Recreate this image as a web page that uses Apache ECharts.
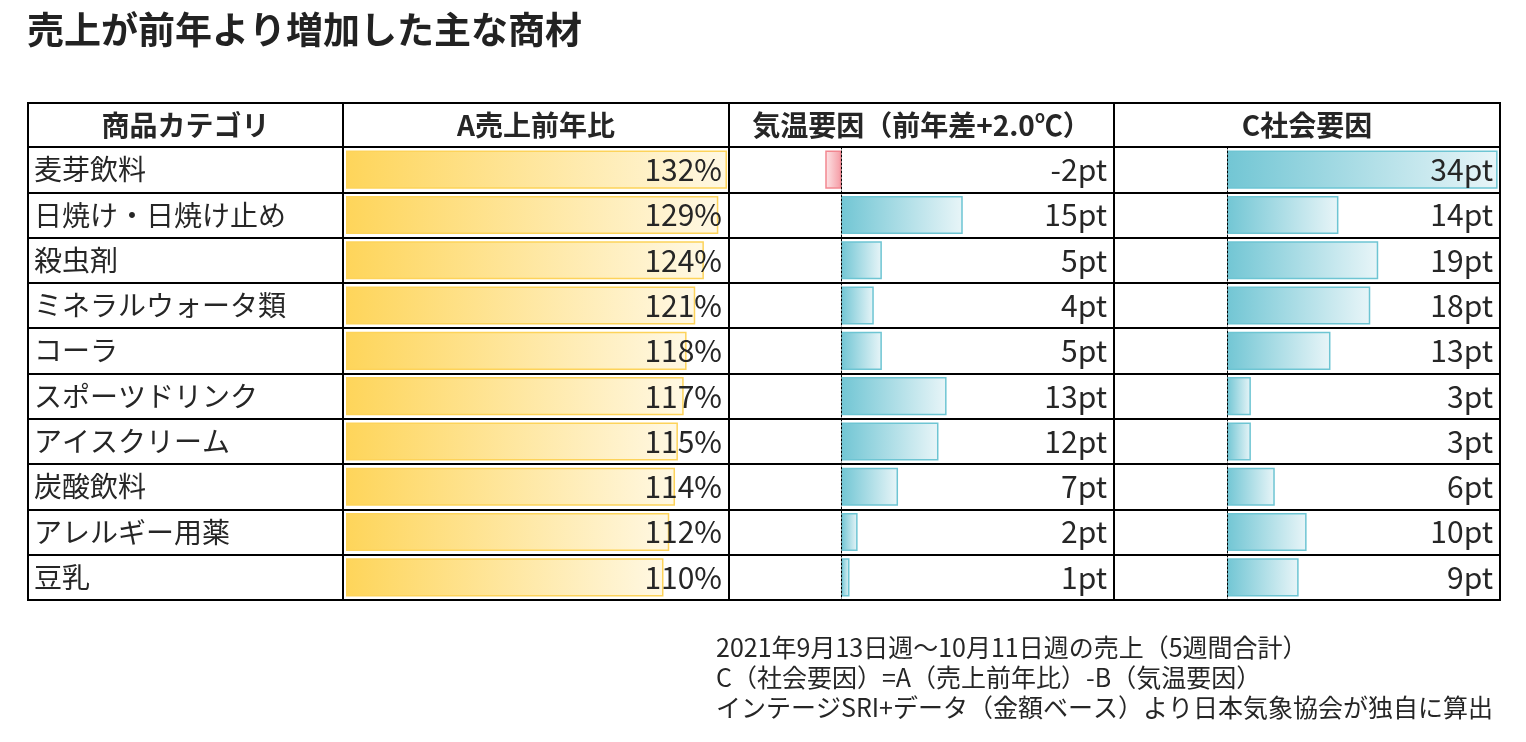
<!DOCTYPE html>
<html><head><meta charset="utf-8">
<script src="https://cdn.jsdelivr.net/npm/echarts@6/dist/echarts.min.js"></script>
<style>html,body{margin:0;padding:0;background:#fff}#c{width:1526px;height:742px}</style>
</head><body><div id="c"></div>
<script>
const titleText = '売上が前年より増加した主な商材';
const headers = ['商品カテゴリ', 'A売上前年比', '気温要因（前年差+2.0℃）', 'C社会要因'];
const categories = ['麦芽飲料', '日焼け・日焼け止め', '殺虫剤', 'ミネラルウォータ類', 'コーラ', 'スポーツドリンク', 'アイスクリーム', '炭酸飲料', 'アレルギー用薬', '豆乳'];
const salesYoY = [132, 129, 124, 121, 118, 117, 115, 114, 112, 110];
const weatherFactor = [-2, 15, 5, 4, 5, 13, 12, 7, 2, 1];
const socialFactor = [34, 14, 19, 18, 13, 3, 3, 6, 10, 9];
const notes = [
  '2021年9月13日週～10月11日週の売上（5週間合計）',
  'C（社会要因）=A（売上前年比）-B（気温要因）',
  'インテージSRI+データ（金額ベース）より日本気象協会が独自に算出'
];

const FONT = '"Noto Sans CJK JP", "Noto Sans", sans-serif';
const TXT = '#262626';
const cols = [28, 343, 729, 1114, 1500];
const headTop = 103, bodyTop = 147, bodyBottom = 600;
const LW = 2;

const chart = echarts.init(document.getElementById('c'));
const G = echarts.graphic;
const yellow = new G.LinearGradient(0, 0, 1, 0, [{offset: 0, color: '#FED55A'}, {offset: 1, color: '#FFF8E3'}]);
const teal = new G.LinearGradient(0, 0, 1, 0, [{offset: 0, color: '#72C6D4'}, {offset: 1, color: '#E8F5F8'}]);
const red = new G.LinearGradient(0, 0, 1, 0, [{offset: 0, color: '#FDE6E8'}, {offset: 1, color: '#F59AA3'}]);

const grids = [], xAxes = [], yAxes = [], series = [];
for (let i = 0; i < 4; i++) {
  grids.push({left: cols[i], top: bodyTop, width: cols[i + 1] - cols[i], height: bodyBottom - bodyTop,
    show: true, borderColor: '#000', borderWidth: LW, backgroundColor: 'transparent'});
}
const xRanges = [[0, 1], [-1.04, 132.7], [-13.9, 33.7], [-14.2, 34.3]];
xRanges.forEach((r, i) => {
  xAxes.push({type: 'value', gridIndex: i, min: r[0], max: r[1], show: false});
});
// left category axes (row lines, zero line, first column labels)
for (let i = 0; i < 4; i++) {
  yAxes.push({
    type: 'category', gridIndex: i, data: categories, inverse: true, position: 'left', z: 10,
    axisLine: {show: i >= 2, onZero: true, lineStyle: {color: '#000', width: 1, type: [2, 2]}},
    axisTick: {show: false},
    axisLabel: {show: i === 0, inside: true, margin: 6, interval: 0, fontFamily: FONT, fontSize: 28, color: TXT},
    splitLine: {show: true, interval: 0, lineStyle: {color: '#000', width: LW}}
  });
}
const fmt = [v => v + '%', v => v + 'pt', v => v + 'pt'];
const vals = [salesYoY, weatherFactor, socialFactor];
// right value-label axes
for (let i = 1; i < 4; i++) {
  yAxes.push({
    type: 'category', gridIndex: i, data: vals[i - 1].map(fmt[i - 1]), inverse: true, position: 'right', z: 10,
    axisLine: {show: false}, axisTick: {show: false}, splitLine: {show: false},
    axisLabel: {inside: true, margin: 7, interval: 0, fontFamily: FONT, fontSize: 30, color: TXT}
  });
}
const styles = [
  {color: yellow, borderColor: '#FDD35A'},
  {color: teal, borderColor: '#6EC5D3'},
  {color: teal, borderColor: '#6EC5D3'}
];
for (let i = 0; i < 3; i++) {
  series.push({
    type: 'bar', xAxisIndex: i + 1, yAxisIndex: i + 1, barWidth: '84%', z: 2,
    itemStyle: Object.assign({borderWidth: 1.5}, styles[i]),
    data: vals[i].map(v => v < 0 ? {value: v, itemStyle: {color: red, borderColor: '#F28690'}} : v)
  });
}

const graphics = [];
headers.forEach((h, i) => {
  graphics.push({type: 'rect', shape: {x: cols[i], y: headTop, width: cols[i + 1] - cols[i], height: bodyTop - headTop},
    style: {fill: '#fff', stroke: '#000', lineWidth: LW}, z: 5});
  graphics.push({type: 'text', x: (cols[i] + cols[i + 1]) / 2, y: (headTop + bodyTop) / 2, z: 6,
    style: {text: h, fill: TXT, font: 'bold 28px ' + FONT, textAlign: 'center', textVerticalAlign: 'middle'}});
});
graphics.push({type: 'text', x: 716, y: 632, z: 6,
  style: {text: notes.join('\n'), fill: TXT, font: '25px ' + FONT, lineHeight: 30, textAlign: 'left', textVerticalAlign: 'top'}});

chart.setOption({
  animation: false,
  backgroundColor: '#fff',
  title: {text: titleText, left: 22, top: 6, textStyle: {fontFamily: FONT, fontSize: 37, fontWeight: 'bold', color: '#222'}},
  grid: grids, xAxis: xAxes, yAxis: yAxes, series: series, graphic: graphics
});
</script></body></html>
